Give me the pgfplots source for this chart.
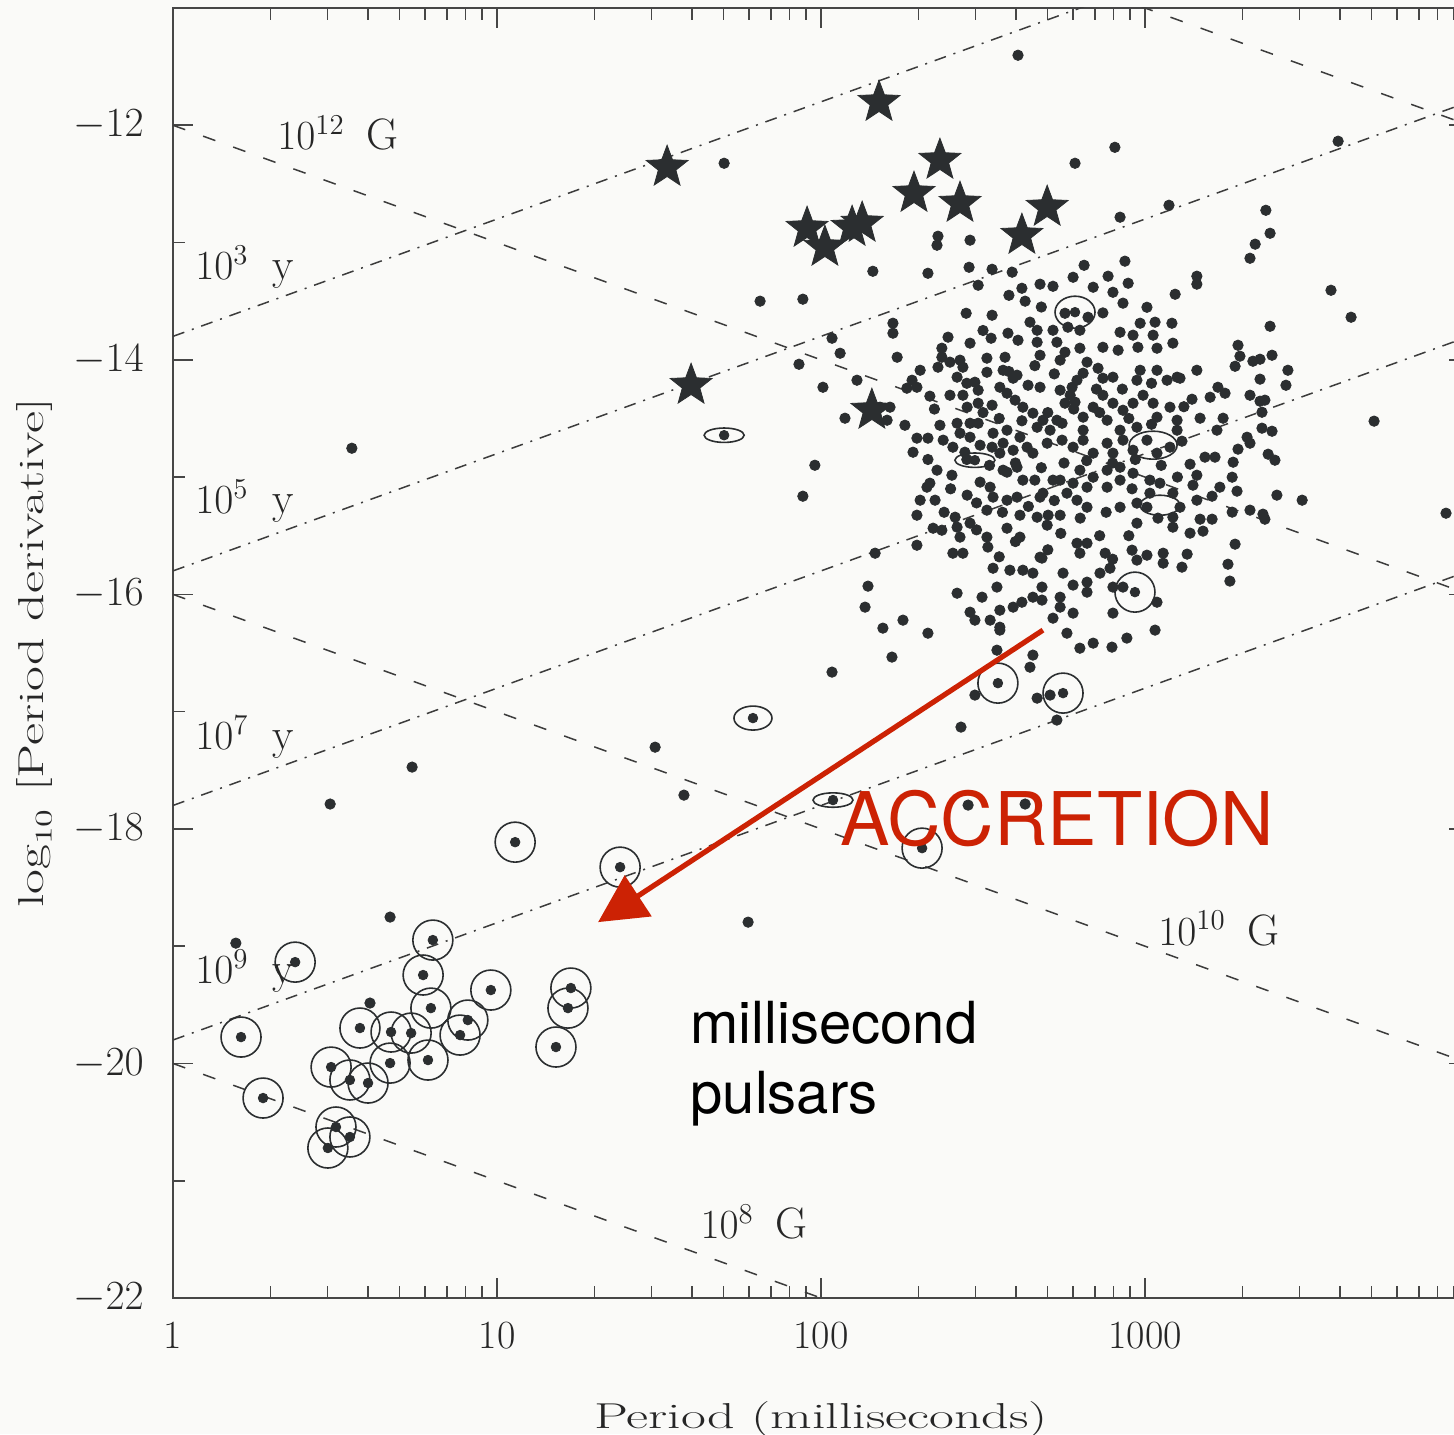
\documentclass[border=0pt]{standalone}
\usepackage{pgfplots}
\pgfplotsset{compat=1.18}
\usepackage{fontspec}
\newfontfamily\heros{TeX Gyre Heros}
\usetikzlibrary{arrows.meta}
\definecolor{bgcol}{RGB}{250,250,248}
\definecolor{dotcol}{RGB}{43,46,48}
\definecolor{axcol}{RGB}{70,70,70}
\definecolor{linecol}{RGB}{60,60,60}
\definecolor{redcol}{RGB}{204,34,4}

\pgfdeclareplotmark{fstar}{%
  \pgfpathmoveto{\pgfpointpolar{90}{\pgfplotmarksize}}%
  \pgfpathlineto{\pgfpointpolar{126}{0.42\pgfplotmarksize}}%
  \pgfpathlineto{\pgfpointpolar{162}{\pgfplotmarksize}}%
  \pgfpathlineto{\pgfpointpolar{198}{0.42\pgfplotmarksize}}%
  \pgfpathlineto{\pgfpointpolar{234}{\pgfplotmarksize}}%
  \pgfpathlineto{\pgfpointpolar{270}{0.42\pgfplotmarksize}}%
  \pgfpathlineto{\pgfpointpolar{306}{\pgfplotmarksize}}%
  \pgfpathlineto{\pgfpointpolar{342}{0.42\pgfplotmarksize}}%
  \pgfpathlineto{\pgfpointpolar{18}{\pgfplotmarksize}}%
  \pgfpathlineto{\pgfpointpolar{54}{0.42\pgfplotmarksize}}%
  \pgfpathclose
  \pgfusepathqfillstroke
}

% x = log10(Period / ms), y = log10(Period derivative)
\pgfplotstableread{
x y
1.701 -12.324
1.812 -13.500
1.944 -13.483
2.160 -13.245
2.330 -13.262
2.361 -12.946
2.358 -13.023
2.460 -12.980
2.457 -13.211
2.528 -13.228
2.590 -13.253
2.034 -13.816
2.059 -13.944
1.932 -14.038
2.006 -14.234
2.074 -14.498
2.111 -14.174
1.981 -14.899
1.944 -15.163
2.136 -16.109
2.145 -15.930
2.167 -15.649
2.608 -11.403
2.907 -12.188
2.784 -12.324
2.923 -12.784
3.074 -12.682
2.778 -13.296
2.812 -13.194
2.886 -13.287
2.938 -13.159
0.552 -14.754
0.485 -17.788
0.738 -17.473
0.670 -18.752
0.194 -18.974
1.488 -17.303
1.577 -17.712
1.775 -18.795
0.608 -19.485
2.432 -17.132
}\dotsA

\pgfplotstableread{
x y
2.485 -13.364
2.620 -13.390
2.676 -13.355
2.716 -13.373
2.840 -13.381
2.901 -13.424
2.948 -13.347
3.093 -13.441
2.630 -13.500
2.932 -13.517
3.006 -13.552
2.222 -13.688
2.222 -13.773
2.448 -13.603
2.528 -13.620
2.645 -13.679
2.753 -13.603
2.762 -13.722
2.799 -13.748
2.824 -13.637
2.716 -13.748
2.667 -13.748
2.985 -13.688
3.031 -13.679
3.083 -13.688
2.923 -13.765
2.963 -13.790
3.025 -13.790
2.577 -13.773
2.608 -13.833
2.667 -13.850
2.392 -13.807
2.460 -13.858
2.525 -13.816
2.728 -13.850
2.799 -13.901
2.870 -13.893
2.917 -13.918
2.978 -13.893
3.037 -13.901
3.086 -13.858
2.235 -13.978
2.373 -13.901
2.373 -13.978
2.429 -14.003
2.512 -13.986
2.568 -13.978
2.676 -13.961
2.753 -13.935
2.438 -14.063
2.398 -14.020
2.361 -14.063
2.512 -14.106
2.562 -14.089
2.605 -14.131
2.738 -14.003
2.821 -14.020
2.855 -14.072
2.809 -14.114
2.790 -14.174
2.775 -14.234
2.769 -14.302
2.753 -14.370
2.784 -14.361
2.870 -14.157
2.901 -14.148
2.985 -14.089
3.037 -14.089
2.975 -14.174
3.068 -14.174
3.099 -14.148
2.306 -14.089
2.281 -14.174
2.265 -14.242
2.296 -14.234
2.336 -14.310
2.420 -14.148
2.475 -14.191
2.485 -14.259
2.593 -14.157
2.639 -14.217
2.676 -14.234
2.738 -14.259
2.398 -14.302
2.438 -14.302
2.451 -14.404
2.485 -14.370
2.528 -14.387
2.552 -14.234
2.574 -14.285
2.599 -14.344
2.623 -14.404
2.654 -14.455
2.685 -14.515
2.728 -14.515
2.809 -14.489
2.809 -14.600
2.840 -14.404
2.870 -14.302
2.901 -14.370
2.932 -14.430
2.883 -14.515
2.963 -14.370
2.994 -14.302
3.025 -14.370
3.077 -14.404
3.099 -14.515
3.037 -14.489
2.975 -14.575
2.923 -14.600
2.182 -14.404
2.213 -14.404
2.204 -14.515
2.259 -14.558
2.367 -14.558
2.420 -14.541
2.460 -14.541
2.429 -14.626
2.460 -14.660
2.485 -14.541
2.531 -14.626
2.574 -14.600
2.614 -14.660
2.667 -14.575
2.707 -14.600
2.744 -14.541
2.296 -14.668
2.330 -14.668
2.284 -14.788
2.377 -14.685
2.407 -14.745
2.444 -14.788
2.491 -14.728
2.528 -14.745
2.562 -14.711
2.552 -14.796
2.593 -14.771
2.636 -14.745
2.654 -14.796
2.698 -14.711
2.744 -14.685
2.778 -14.745
2.809 -14.685
2.840 -14.796
2.883 -14.711
2.901 -14.796
2.932 -14.685
2.963 -14.771
3.006 -14.685
3.037 -14.796
3.077 -14.745
3.099 -14.600
2.50 -14.45
2.55 -14.50
2.62 -14.52
2.70 -14.45
2.78 -14.42
2.86 -14.45
2.95 -14.50
3.02 -14.55
2.58 -14.10
2.66 -14.05
2.72 -14.12
2.85 -14.25
2.93 -14.25
3.02 -14.20
2.45 -14.20
2.35 -14.42
2.68 -13.55
2.58 -13.45
2.87 -13.60
2.50 -13.75
}\dotsB

\pgfplotstableread{
x y
3.596 -12.136
3.373 -12.725
3.386 -12.921
3.340 -13.014
3.324 -13.134
3.160 -13.287
3.160 -13.355
3.574 -13.407
3.636 -13.637
3.386 -13.714
3.287 -13.876
3.293 -13.969
3.278 -14.055
3.333 -14.012
3.355 -13.995
3.392 -13.961
3.441 -14.089
3.355 -14.165
3.435 -14.217
3.160 -14.089
3.108 -14.157
3.145 -14.336
3.225 -14.234
3.247 -14.285
3.201 -14.319
3.324 -14.302
3.355 -14.353
3.370 -14.344
3.361 -14.447
3.170 -14.498
3.241 -14.498
3.222 -14.600
3.114 -14.694
3.361 -14.583
3.392 -14.609
3.315 -14.660
3.324 -14.711
3.707 -14.523
3.380 -14.805
3.401 -14.856
3.287 -14.762
3.185 -14.830
3.216 -14.830
3.272 -14.873
3.139 -14.890
3.160 -14.984
3.269 -15.001
3.148 -15.069
3.231 -15.086
3.207 -15.163
3.284 -15.120
3.407 -15.154
3.485 -15.197
3.269 -15.299
3.364 -15.316
3.370 -15.359
3.170 -15.359
3.207 -15.359
3.139 -15.478
3.179 -15.461
3.278 -15.572
3.130 -15.657
3.256 -15.743
3.262 -15.887
3.929 -15.308
3.114 -15.768
3.160 -15.197
3.324 -15.282
3.108 -15.257
3.12 -14.40
3.10 -15.00
}\dotsC

\pgfplotstableread{
x y
2.358 -14.941
2.336 -15.052
2.327 -15.086
2.404 -14.984
2.306 -15.197
2.352 -15.197
2.296 -15.325
2.414 -15.342
2.420 -15.427
2.346 -15.436
2.373 -15.453
2.451 -15.154
2.460 -15.393
2.512 -15.282
2.491 -15.043
2.522 -15.086
2.531 -15.171
2.574 -15.197
2.605 -15.171
2.574 -14.958
2.605 -14.916
2.623 -15.026
2.660 -15.026
2.676 -15.171
2.614 -15.325
2.667 -15.342
2.701 -15.325
2.738 -15.325
2.698 -15.410
2.574 -15.436
2.512 -15.512
2.515 -15.597
2.429 -15.512
2.407 -15.649
2.438 -15.649
2.296 -15.581
2.738 -15.026
2.778 -15.052
2.790 -15.197
2.821 -15.257
2.759 -15.137
2.821 -15.086
2.840 -15.001
2.883 -14.941
2.923 -15.026
2.883 -15.086
2.923 -15.257
2.975 -15.222
2.975 -15.393
3.015 -15.137
3.046 -15.052
3.086 -15.137
3.006 -15.257
3.086 -15.342
3.086 -15.427
2.614 -15.512
2.654 -15.819
2.682 -15.691
2.623 -15.794
2.682 -15.938
2.583 -15.794
2.531 -15.777
2.747 -15.819
2.778 -15.921
2.821 -15.896
2.821 -15.981
2.861 -15.819
2.892 -15.777
2.877 -15.649
2.960 -15.623
3.006 -15.666
3.056 -15.649
3.056 -15.734
2.975 -15.708
2.790 -15.564
2.799 -15.649
2.821 -15.564
2.676 -15.683
2.543 -15.938
2.497 -16.024
2.420 -15.990
2.460 -16.152
2.475 -16.220
2.522 -16.220
2.552 -16.135
2.552 -16.280
2.593 -16.109
2.620 -16.067
2.654 -16.024
2.682 -16.049
2.738 -16.024
2.738 -16.109
2.778 -16.160
2.716 -16.203
2.901 -16.160
2.901 -15.938
2.932 -15.938
3.037 -16.067
2.253 -16.220
2.191 -16.288
2.330 -16.331
2.552 -16.305
2.759 -16.331
2.799 -16.459
2.840 -16.416
2.898 -16.450
2.944 -16.373
3.031 -16.305
2.654 -16.518
2.543 -16.476
2.219 -16.535
2.034 -16.663
2.645 -16.621
2.475 -16.859
2.707 -16.859
2.667 -16.885
2.728 -17.072
2.454 -17.797
2.630 -17.788
2.562 -14.941
2.716 -15.026
2.799 -14.941
2.963 -14.967
3.015 -15.026
2.685 -15.137
2.923 -14.916
2.45 -14.85
2.52 -14.90
2.60 -14.88
2.68 -14.92
2.75 -14.88
2.82 -14.86
2.90 -14.88
2.97 -14.85
3.05 -14.90
2.40 -15.10
2.48 -15.22
2.56 -15.30
2.64 -15.25
2.72 -15.20
2.80 -15.35
2.88 -15.30
2.96 -15.10
3.04 -15.35
2.33 -14.85
2.38 -15.30
2.48 -15.45
2.60 -15.55
2.74 -15.48
2.86 -15.50
2.95 -15.50
2.70 -15.62
2.55 -15.68
2.90 -15.70
}\dotsD

% binary pulsars (circled)
\pgfplotstableread{
x y
1.056 -18.113
1.380 -18.326
0.377 -19.136
0.802 -18.948
0.772 -19.246
0.981 -19.374
1.228 -19.357
1.219 -19.528
1.182 -19.860
0.210 -19.775
0.796 -19.528
0.577 -19.698
0.673 -19.732
0.735 -19.741
0.910 -19.630
0.886 -19.758
0.787 -19.971
0.670 -19.997
0.488 -20.031
0.546 -20.141
0.602 -20.167
0.278 -20.295
0.503 -20.542
0.546 -20.627
0.478 -20.721
2.969 -15.981
2.546 -16.757
2.747 -16.842
2.312 -18.164
}\binaries

% young pulsars / magnetars (stars)
\pgfplotstableread{
x y
1.525 -12.358
2.179 -11.804
2.367 -12.298
2.287 -12.580
2.429 -12.665
2.698 -12.699
2.620 -12.938
1.957 -12.878
2.012 -13.040
2.096 -12.870
2.127 -12.835
1.599 -14.217
2.157 -14.430
}\stars

\begin{document}
\begin{tikzpicture}
\fill[bgcol] (-86.5pt,-68pt) rectangle (640.5pt,649pt);
\begin{axis}[
  at={(0pt,0pt)}, anchor=south west,
  scale only axis, width=648pt, height=645pt,
  xmin=0, xmax=4, ymin=-22, ymax=-11,
  clip mode=individual,
  axis line style={axcol, line width=1pt},
  tick style={axcol, line width=0.8pt},
  major tick length=10pt, minor tick length=6pt,
  tick align=inside,
  xtick={0,1,2,3},
  xticklabels={1,10,100,1000},
  minor xtick={0.30103,0.47712,0.60206,0.69897,0.77815,0.84510,0.90309,0.95424,
    1.30103,1.47712,1.60206,1.69897,1.77815,1.84510,1.90309,1.95424,
    2.30103,2.47712,2.60206,2.69897,2.77815,2.84510,2.90309,2.95424,
    3.30103,3.47712,3.60206,3.69897,3.77815,3.84510,3.90309,3.95424},
  ytick={-22,-20,-18,-16,-14,-12},
  minor ytick={-21,-19,-17,-15,-13},
  ticklabel style={font=\fontsize{20}{24}\selectfont, inner sep=0pt, text=black!85},
  xticklabel style={yshift=-12pt},
  yticklabel style={xshift=-14.5pt},
  label style={font=\fontsize{18}{22}\selectfont, inner sep=0pt, text=black!85},
  xlabel={\scalebox{1.5}[1]{Period (milliseconds)}},
  ylabel={\scalebox{1.5}[1]{$\log_{10}$ [Period derivative]}},
  xlabel style={at={(axis description cs:0.5,-0.1008)}, anchor=base},
  ylabel style={at={(axis description cs:-0.1003,0.5)}, anchor=base},
]
% constant magnetic field lines (dashed)
\addplot[linecol, line width=0.75pt, dash pattern=on 6.5pt off 9.5pt] coordinates {(0,-12) (4,-16)};
\addplot[linecol, line width=0.75pt, dash pattern=on 6.5pt off 9.5pt] coordinates {(0,-16) (4,-20)};
\addplot[linecol, line width=0.75pt, dash pattern=on 6.5pt off 9.5pt] coordinates {(0,-20) (2.2,-22.2)};
\addplot[linecol, line width=0.75pt, dash pattern=on 6.5pt off 9.5pt] coordinates {(2.8,-10.8) (4,-12)};
% constant age lines (dash-dot)
\addplot[linecol, line width=0.75pt, dash pattern=on 6pt off 4pt on 1pt off 4pt] coordinates {(0,-13.8) (3,-10.8)};
\addplot[linecol, line width=0.75pt, dash pattern=on 6pt off 4pt on 1pt off 4pt] coordinates {(0,-15.8) (4,-11.8)};
\addplot[linecol, line width=0.75pt, dash pattern=on 6pt off 4pt on 1pt off 4pt] coordinates {(0,-17.8) (4,-13.8)};
\addplot[linecol, line width=0.75pt, dash pattern=on 6pt off 4pt on 1pt off 4pt] coordinates {(0,-19.8) (4,-15.8)};

% pulsars
\addplot[only marks, mark=*, mark size=2.6pt, color=dotcol] table {\dotsA};
\addplot[only marks, mark=*, mark size=2.6pt, color=dotcol] table {\dotsB};
\addplot[only marks, mark=*, mark size=2.6pt, color=dotcol] table {\dotsC};
\addplot[only marks, mark=*, mark size=2.6pt, color=dotcol] table {\dotsD};
% binaries: circle + dot
\addplot[only marks, mark=o, mark size=10pt, color=dotcol, mark options={line width=0.8pt}] table {\binaries};
\addplot[only marks, mark=*, mark size=2.4pt, color=dotcol] table {\binaries};
% elongated binaries (ellipses)
\addplot[only marks, mark=o, mark size=10pt, color=dotcol, mark options={line width=0.8pt, yscale=0.36}] coordinates {(1.701,-14.643) (2.037,-17.754) (2.475,-14.856)};
\addplot[only marks, mark=o, mark size=10pt, color=dotcol, mark options={line width=0.8pt, xscale=0.95, yscale=0.6}] coordinates {(1.790,-17.055)};
\addplot[only marks, mark=o, mark size=10pt, color=dotcol, mark options={line width=0.8pt, xscale=1.2, yscale=0.7}] coordinates {(3.025,-14.728)};
\addplot[only marks, mark=o, mark size=10pt, color=dotcol, mark options={line width=0.8pt, yscale=0.5}] coordinates {(3.046,-15.240)};
\addplot[only marks, mark=o, mark size=10pt, color=dotcol, mark options={line width=0.8pt, yscale=0.8}] coordinates {(2.784,-13.594)};
\addplot[only marks, mark=*, mark size=2.4pt, color=dotcol] coordinates {(1.701,-14.643) (2.037,-17.754) (2.475,-14.856) (1.790,-17.055) (2.784,-13.594)};
% stars
\addplot[only marks, mark=fstar, mark size=11pt, color=dotcol] table {\stars};

% line labels
\begin{scope}[every node/.style={inner sep=0pt, anchor=base west, font=\fontsize{22}{26}\selectfont, text=black!85}]
\node at (axis cs:0.321,-12.205) {$10^{12}$\hspace{0.5em}G};
\node at (axis cs:0.068,-13.313) {$10^{3}$\hspace{0.55em}y};
\node at (axis cs:0.068,-15.313) {$10^{5}$\hspace{0.55em}y};
\node at (axis cs:0.068,-17.320) {$10^{7}$\hspace{0.55em}y};
\node at (axis cs:0.068,-19.320) {$10^{9}$\hspace{0.55em}y};
\node at (axis cs:3.040,-18.990) {$10^{10}$\hspace{0.5em}G};
\node at (axis cs:1.627,-21.489) {$10^{8}$\hspace{0.5em}G};
\end{scope}

% annotations
\draw[redcol, line width=2.6pt, -{Triangle[length=24pt, width=24pt]}] (axis cs:2.685,-16.305) -- (axis cs:1.312,-18.795);
\node[anchor=base west, inner sep=0pt, text=redcol, font=\heros\fontsize{37}{40}\selectfont] at (axis cs:2.059,-18.138) {ACCRETION};
\node[anchor=base west, inner sep=0pt, text=black, font=\heros\fontsize{29}{34}\selectfont] at (axis cs:1.596,-19.826) {millisecond};
\node[anchor=base west, inner sep=0pt, text=black, font=\heros\fontsize{29}{34}\selectfont] at (axis cs:1.596,-20.423) {pulsars};
\end{axis}
\pgfresetboundingbox
\useasboundingbox (-86.5pt,-68pt) rectangle (640.5pt,649pt);
\end{tikzpicture}
\end{document}
